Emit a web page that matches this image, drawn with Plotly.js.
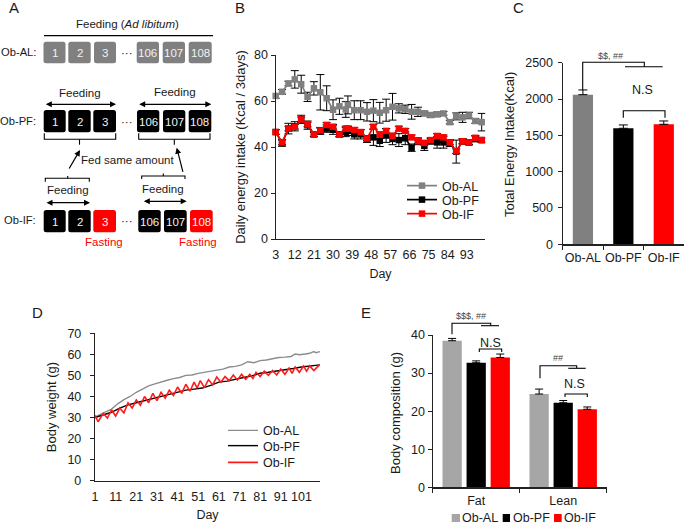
<!DOCTYPE html>
<html>
<head>
<meta charset="utf-8">
<script src="https://cdn.plot.ly/plotly-3.0.1.min.js"></script>
<style>body { margin: 0; background: #fff; }</style>
</head>
<body>
<div id="chart" style="width:685px;height:524px;"></div>
<script>
// Panel B
const daysB = [3, 6, 9, 12, 15, 18, 21, 24, 27, 30, 33, 36, 37, 40, 43, 46, 49, 52, 55, 58, 61, 64, 67, 70, 73, 76, 79, 82, 85, 88, 91, 94, 97, 100];
const intakeAL = [62.2, 64, 67.6, 69.4, 67.3, 61.8, 65.5, 63.8, 61.2, 56.2, 57.7, 56.3, 58.3, 56, 56, 55.3, 55.8, 54.9, 56, 57.5, 56.8, 56.4, 55.3, 55.3, 54.6, 53.9, 54.2, 54.6, 50.8, 53.3, 52.9, 53.7, 51.3, 50.8];
const intakePF = [46.5, 41.8, 48, 49, 52, 49.5, 45.5, 47, 48, 47.5, 45.5, 46.5, 47, 45.5, 45.5, 43.5, 44.2, 42.7, 45, 43.5, 43, 43.8, 39.7, 42.5, 40.5, 42.5, 42, 42, 41.7, 38, 42.5, 42, 43.5, 43];
const intakeIF = [46.5, 42, 48, 48.8, 52, 49.8, 45.5, 47.2, 49.6, 48.8, 45.4, 48, 48, 47.4, 46.5, 43.7, 48.8, 45.5, 47, 44.8, 48, 47, 44.2, 42.5, 41.8, 43, 44.8, 44.2, 42, 38.2, 42.5, 42, 44, 43];
const errAL = [1, 1, 1, 3.8, 3.9, 2, 2.9, 7.7, 5.4, 4.3, 3.5, 3.4, 3.9, 4.1, 4.1, 4, 4.8, 4.5, 4.8, 5.8, 2, 1.8, 3.2, 2, 1, 1, 1, 0.8, 0.8, 1.5, 2.2, 1.4, 1, 3.8];
const errPF = [1, 1.5, 2.3, 2, 1.8, 1.8, 1, 1.5, 1.6, 2, 1, 2, 2, 2, 2, 1.5, 3.5, 2.5, 3, 2.5, 2.8, 2.8, 1.6, 1.5, 2, 1.2, 2.5, 2.5, 1.5, 5, 1.2, 1, 1.2, 0.8];
const errIF = [1, 1, 1, 1, 1, 1, 1, 1, 1, 1, 1, 1, 1, 1, 1, 1, 1, 1, 1, 1, 1, 1, 1, 1, 1, 1, 1, 1, 1, 1, 1, 1, 1, 1];
const ticksB = [3, 12, 21, 30, 39, 48, 57, 66, 75, 84, 93];

// Panel C
const groups = ["Ob-AL", "Ob-PF", "Ob-IF"];
const totalEnergy = [2060, 1597, 1652];
const totalEnergyErr = [65, 46, 46];
const groupColors = ["#808080", "#000000", "#ff0000"];

// Panel D
const daysAL = [1, 6, 9, 12, 15, 18, 21, 24, 27, 30, 33, 36, 39, 42, 45, 48, 51, 54, 57, 60, 63, 66, 69, 72, 75, 78, 81, 84, 87, 90, 93, 96, 98, 100, 103, 105, 107, 108, 110];
const weightAL = [30.3, 32.5, 34, 36.5, 38.5, 40, 42, 43.5, 45, 46, 47, 47.7, 48.5, 49, 50, 50.2, 51, 51.5, 52.3, 52.7, 53, 54, 54.3, 55, 56.5, 56, 57, 57.3, 58, 58.5, 58.7, 59, 60.2, 59.8, 60.2, 60.5, 61.3, 60.8, 61.3];
const daysPF = [1, 5, 9, 13, 17, 21, 25, 29, 33, 37, 41, 45, 49, 53, 57, 61, 65, 69, 73, 77, 81, 85, 89, 93, 97, 101, 105, 110];
const weightPF = [30, 31.2, 32.5, 34.5, 36, 37, 38, 39, 40, 41.3, 42, 43, 43.5, 44, 45.3, 46.8, 47.3, 48.3, 49, 49.8, 51, 51.5, 52, 52.5, 53.3, 54, 54.3, 55];
const daysIF = [1, 2.5, 5, 7, 9, 11, 13, 15, 17, 19, 21, 23, 25, 27, 29, 31, 33, 35, 37, 39, 41, 43, 45, 47, 49, 50.5, 52, 54, 56, 58, 60, 62, 64, 66, 68, 70, 72, 74, 76, 77.5, 79, 81, 83, 85, 87, 89, 91, 93, 95, 96.5, 98, 100, 102, 103.5, 105, 107, 110];
const weightIF = [31, 28, 32, 29.7, 33.7, 30.7, 34.5, 32.2, 37, 34.5, 38.3, 35.8, 40, 37, 41.5, 38, 42, 39.2, 43, 40.5, 44.5, 41.5, 45.8, 42.5, 46.8, 44, 47.5, 44.2, 48, 45.5, 49.3, 46.8, 49.5, 47.5, 50.2, 47.8, 50.5, 48.2, 50.5, 48.5, 51.5, 49.5, 52, 50, 52.3, 50.2, 53, 50.5, 53.5, 51, 54, 51.5, 54.5, 52, 54.5, 52.3, 55.3];
const ticksD = [1, 11, 21, 31, 41, 51, 61, 71, 81, 91, 101];

// Panel E
const compCats = ["Fat", "Lean"];
const compAL = [38.5, 24.5];
const compPF = [32.7, 22.2];
const compIF = [34.1, 20.5];
const compErrAL = [0.6, 1.3];
const compErrPF = [0.5, 0.6];
const compErrIF = [0.9, 0.6];

const W = 685, H = 524;
const X = px => px / W;
const Y = py => 1 - py / H;
const TXT = "#1a1a1a";
const FONT = "Liberation Sans, Arial, sans-serif";

function dom(a, b) { return [a / W, b / W]; }
function domY(top, bottom) { return [1 - bottom / H, 1 - top / H]; }

// annotations and shapes, given in picture pixels
const ann = [];
const shp = [];

function label(text, px, py, size, color, extra) {
    ann.push(Object.assign({
        text: text, x: X(px), y: Y(py), xref: "paper", yref: "paper",
        showarrow: false, xanchor: "center", yanchor: "middle",
        font: {size: size || 12, color: color || TXT}
    }, extra || {}));
}

function pathOf(points) {
    return points.map((p, i) => (i == 0 ? "M" : "L") + X(p[0]) + "," + Y(p[1])).join(" ");
}

function poly(points, width, color) {
    shp.push({type: "path", xref: "paper", yref: "paper", path: pathOf(points), line: {color: color || "#000", width: width || 1.1}});
}

function box(x0, x1, y0, y1, color, text) {
    const r = 2.5;
    const p = "M" + X(x0 + r) + "," + Y(y0) + " L" + X(x1 - r) + "," + Y(y0) +
        " Q" + X(x1) + "," + Y(y0) + " " + X(x1) + "," + Y(y0 + r) +
        " L" + X(x1) + "," + Y(y1 - r) + " Q" + X(x1) + "," + Y(y1) + " " + X(x1 - r) + "," + Y(y1) +
        " L" + X(x0 + r) + "," + Y(y1) + " Q" + X(x0) + "," + Y(y1) + " " + X(x0) + "," + Y(y1 - r) +
        " L" + X(x0) + "," + Y(y0 + r) + " Q" + X(x0) + "," + Y(y0) + " " + X(x0 + r) + "," + Y(y0) + " Z";
    shp.push({type: "path", xref: "paper", yref: "paper", path: p, fillcolor: color, line: {width: 0}});
    label(text, (x0 + x1) / 2, (y0 + y1) / 2 + 0.5, 11.5, "#f2f2f2");
}

function arrow(x0, y0, x1, y1, both) {
    ann.push({
        text: "", x: X(x1), y: Y(y1), xref: "paper", yref: "paper", ax: x0 - x1, ay: y0 - y1,
        showarrow: true, arrowhead: 2, arrowsize: 1, arrowwidth: 1.2, arrowcolor: "#000",
        arrowside: both ? "end+start" : "end", startarrowhead: 2, startarrowsize: 1
    });
}

function swatch(x0, x1, y0, y1, color) {
    shp.push({type: "rect", xref: "paper", yref: "paper", x0: X(x0), x1: X(x1), y0: Y(y0), y1: Y(y1), fillcolor: color, line: {width: 0}});
}

// Panel A
const nums = ["1", "2", "3", "106", "107", "108"];
const rowAL = [[43.5, 65.5], [68.3, 90.7], [94, 116], [136.7, 159], [162.7, 185], [188.7, 211.7]];
const rowPF = [[43.7, 65.7], [68.3, 90.7], [93.3, 116], [137, 159.3], [163, 185.3], [188.7, 211.3]];
const rowIF = [[43.7, 65.7], [68.3, 90.7], [93.3, 116], [138.3, 160.7], [164, 186.7], [190, 212.7]];
const colorIF = ["#000", "#000", "#ff0000", "#000", "#000", "#ff0000"];

label("A", 14, 7, 15);
label("Feeding (<i>Ad libitum</i>)", 128, 24, 11.5);
poly([[44, 35.7], [213, 35.7]], 1.2);
rowAL.forEach((b, i) => box(b[0], b[1], 41.7, 63.3, "#808080", nums[i]));
rowPF.forEach((b, i) => box(b[0], b[1], 110, 132.3, "#000", nums[i]));
rowIF.forEach((b, i) => box(b[0], b[1], 210, 232.3, colorIF[i], nums[i]));
label("Ob-AL:", 38, 52.5, 11.2, TXT, {xanchor: "right"});
label("Ob-PF:", 38, 121, 11.2, TXT, {xanchor: "right"});
label("Ob-IF:", 38, 219.5, 11.2, TXT, {xanchor: "right"});
label("···", 127, 53, 11.5);
label("···", 127, 122, 11.5);
label("···", 127, 221, 11.5);
label("Feeding", 79.5, 92.5, 11.5);
label("Feeding", 175, 92, 11.5);
arrow(44.3, 104.3, 116, 104.3, true);
arrow(137.7, 104.3, 211.3, 104.3, true);
poly([[44.3, 133.3], [44.3, 139.3], [115.7, 139.3], [115.7, 133.3]]);
poly([[79.5, 139.3], [79.5, 144.7]]);
poly([[138.7, 133.3], [138.7, 139.3], [210, 139.3], [210, 133.3]]);
poly([[174.3, 139.3], [174.3, 144.7]]);
label("Fed same amount", 127.5, 159.5, 11.5);
arrow(68.3, 170, 80, 150);
arrow(183.3, 173.3, 176.7, 147.7);
poly([[45.3, 181.7], [45.3, 178.3], [89.3, 178.3], [89.3, 181.7]]);
poly([[67.7, 178.3], [67.7, 176]]);
poly([[141.7, 179], [141.7, 176], [185, 176], [185, 179]]);
poly([[163.3, 176], [163.3, 173.5]]);
label("Feeding", 67.7, 190, 11.5);
label("Feeding", 163.3, 188.5, 11.5);
arrow(45, 202.7, 90, 202.7, true);
arrow(142.3, 201.3, 186.7, 201.3, true);
label("Fasting", 104, 241.7, 11.5, "#ff0000");
label("Fasting", 198.3, 241.7, 11.5, "#ff0000");

// panel letters
label("B", 240, 7, 15);
label("C", 518, 7, 15);
label("D", 37, 312, 15);
label("E", 366, 312, 15);

// Panel C marks
poly([[582.7, 90], [582.7, 62.3], [644.3, 62.3], [644.3, 66.7]]);
poly([[625, 66.7], [662.7, 66.7]]);
label("$$, ##", 610, 56, 9, "#444");
label("N.S", 642.7, 90, 12.5);
poly([[623.3, 117.7], [623.3, 110.7], [665, 110.7], [665, 117.7]]);
label("Total Energy Intake(Kcal)", 509, 145, 13, TXT, {textangle: -90});

// Panel E marks
poly([[452, 334.3], [452, 323.3], [490.7, 323.3], [490.7, 325.7]]);
poly([[481, 325.7], [499, 325.7]]);
label("$$$, ##", 470.7, 315.7, 9, "#444");
label("N.S", 490.7, 342.7, 12.5);
poly([[479.3, 352], [479.3, 349], [501.7, 349], [501.7, 352]]);
poly([[540, 378.3], [540, 365.7], [576.7, 365.7], [576.7, 368.3]]);
poly([[568.3, 368.3], [585.7, 368.3]]);
label("##", 558.3, 358.3, 9, "#444");
label("N.S", 574.3, 384.3, 12.5);
poly([[565, 397], [565, 394], [587.3, 394], [587.3, 397]]);
label("Body composition (g)", 395, 413, 13, TXT, {textangle: -90});
swatch(451.7, 460, 514, 522, "#a6a6a6");
swatch(502.7, 510, 514, 522, "#000000");
swatch(554, 561.7, 514, 522, "#ff0000");
label("Ob-AL", 480, 517.5, 12.5);
label("Ob-PF", 531, 517.5, 12.5);
label("Ob-IF", 580, 517.5, 12.5);

function bLine(name, ys, errs, color, lg) {
    return {
        x: daysB, y: ys, name: name, type: "scatter", mode: "lines+markers", xaxis: "x", yaxis: "y",
        line: {color: color, width: 1.7}, marker: {symbol: "square", size: 6.5, color: color},
        error_y: {type: "data", array: errs, visible: true, color: "#000", thickness: 1, width: 4},
        cliponaxis: false, legend: lg
    };
}

function dLine(name, xs, ys, color, width, lg) {
    return {
        x: xs, y: ys, name: name, type: "scatter", mode: "lines", xaxis: "x3", yaxis: "y3",
        line: {color: color, width: width}, cliponaxis: false, legend: lg
    };
}

function eBar(name, ys, errs, color) {
    return {
        x: compCats, y: ys, name: name, type: "bar", xaxis: "x4", yaxis: "y4", showlegend: false,
        marker: {color: color},
        error_y: {type: "data", array: errs, symmetric: false, arrayminus: [0, 0], visible: true, color: "#000", thickness: 1, width: 4}
    };
}

const data = [
    bLine("Ob-AL", intakeAL, errAL, "#808080", "legend"),
    bLine("Ob-PF", intakePF, errPF, "#000000", "legend2"),
    bLine("Ob-IF", intakeIF, errIF, "#ff0000", "legend3"),
    {
        x: groups, y: totalEnergy, type: "bar", xaxis: "x2", yaxis: "y2", width: 0.5, showlegend: false,
        marker: {color: groupColors},
        error_y: {type: "data", array: totalEnergyErr, symmetric: false, arrayminus: [0, 0, 0], visible: true, color: "#000", thickness: 1, width: 4.5}
    },
    dLine("Ob-AL", daysAL, weightAL, "#8c8c8c", 1.4, "legend4"),
    dLine("Ob-PF", daysPF, weightPF, "#000000", 1.4, "legend5"),
    dLine("Ob-IF", daysIF, weightIF, "#ff1a1a", 1.6, "legend6"),
    eBar("Ob-AL", compAL, compErrAL, "#a6a6a6"),
    eBar("Ob-PF", compPF, compErrPF, "#000000"),
    eBar("Ob-IF", compIF, compErrIF, "#ff0000")
];

function lg(px, py) {
    return {x: X(px), y: Y(py), xanchor: "left", yanchor: "middle", bgcolor: "rgba(0,0,0,0)", font: {size: 12.5, color: TXT}, itemclick: false};
}

const axisBase = {showline: true, linecolor: "#222", linewidth: 1.2, showgrid: false, zeroline: false, tickcolor: "#222", tickfont: {size: 12.5, color: TXT}};

const layout = {
    width: W, height: H, margin: {l: 0, r: 0, t: 0, b: 0},
    paper_bgcolor: "#fff", plot_bgcolor: "#fff",
    font: {family: FONT, color: TXT},
    barmode: "group", bargap: 0.17, bargroupgap: 0.2,
    annotations: ann, shapes: shp,
    legend: lg(402, 186), legend2: lg(402, 200), legend3: lg(402, 214),
    legend4: lg(223, 430.7), legend5: lg(223, 446), legend6: lg(223, 462.7),
    xaxis: Object.assign({}, axisBase, {domain: dom(275.7, 485.3), range: [3, 101.7], anchor: "y", tickmode: "array", tickvals: ticksB, ticks: "", ticklabelstandoff: 4,
        title: {text: "Day", font: {size: 12.5, color: TXT}, standoff: 8}}),
    yaxis: Object.assign({}, axisBase, {domain: domY(55, 239), range: [0, 80], anchor: "x", dtick: 20, ticks: "outside", ticklen: 4,
        title: {text: "Daily energy intake (Kcal / 3days)", font: {size: 13, color: TXT}, standoff: 5}}),
    xaxis2: Object.assign({}, axisBase, {domain: dom(562.7, 684), anchor: "y2", type: "category", tickson: "boundaries", ticks: "outside", ticklen: 4, tickangle: 0, ticklabelstandoff: 1}),
    yaxis2: Object.assign({}, axisBase, {domain: domY(62.7, 244.3), range: [0, 2500], anchor: "x2", dtick: 500, ticks: "outside", ticklen: 4, ticklabelstandoff: 2}),
    xaxis3: Object.assign({}, axisBase, {domain: dom(95, 320), range: [1, 110], anchor: "y3", tickmode: "array", tickvals: ticksD, ticks: "", ticklabelstandoff: 4,
        title: {text: "Day", font: {size: 12.5, color: TXT}, standoff: 7}}),
    yaxis3: Object.assign({}, axisBase, {domain: domY(333.3, 480.7), range: [0, 70], anchor: "x3", dtick: 10, ticks: "outside", ticklen: 4, ticklabelstandoff: 6,
        title: {text: "Body weight (g)", font: {size: 13, color: TXT}, standoff: 7}}),
    xaxis4: Object.assign({}, axisBase, {domain: dom(432.7, 606.7), anchor: "y4", type: "category", tickson: "boundaries", ticks: "outside", ticklen: 4, tickangle: 0, ticklabelstandoff: 1}),
    yaxis4: Object.assign({}, axisBase, {domain: domY(335, 487.3), range: [0, 40], anchor: "x4", dtick: 10, ticks: "outside", ticklen: 4})
};

Plotly.newPlot("chart", data, layout, {displayModeBar: false, staticPlot: true});
</script>
</body>
</html>
